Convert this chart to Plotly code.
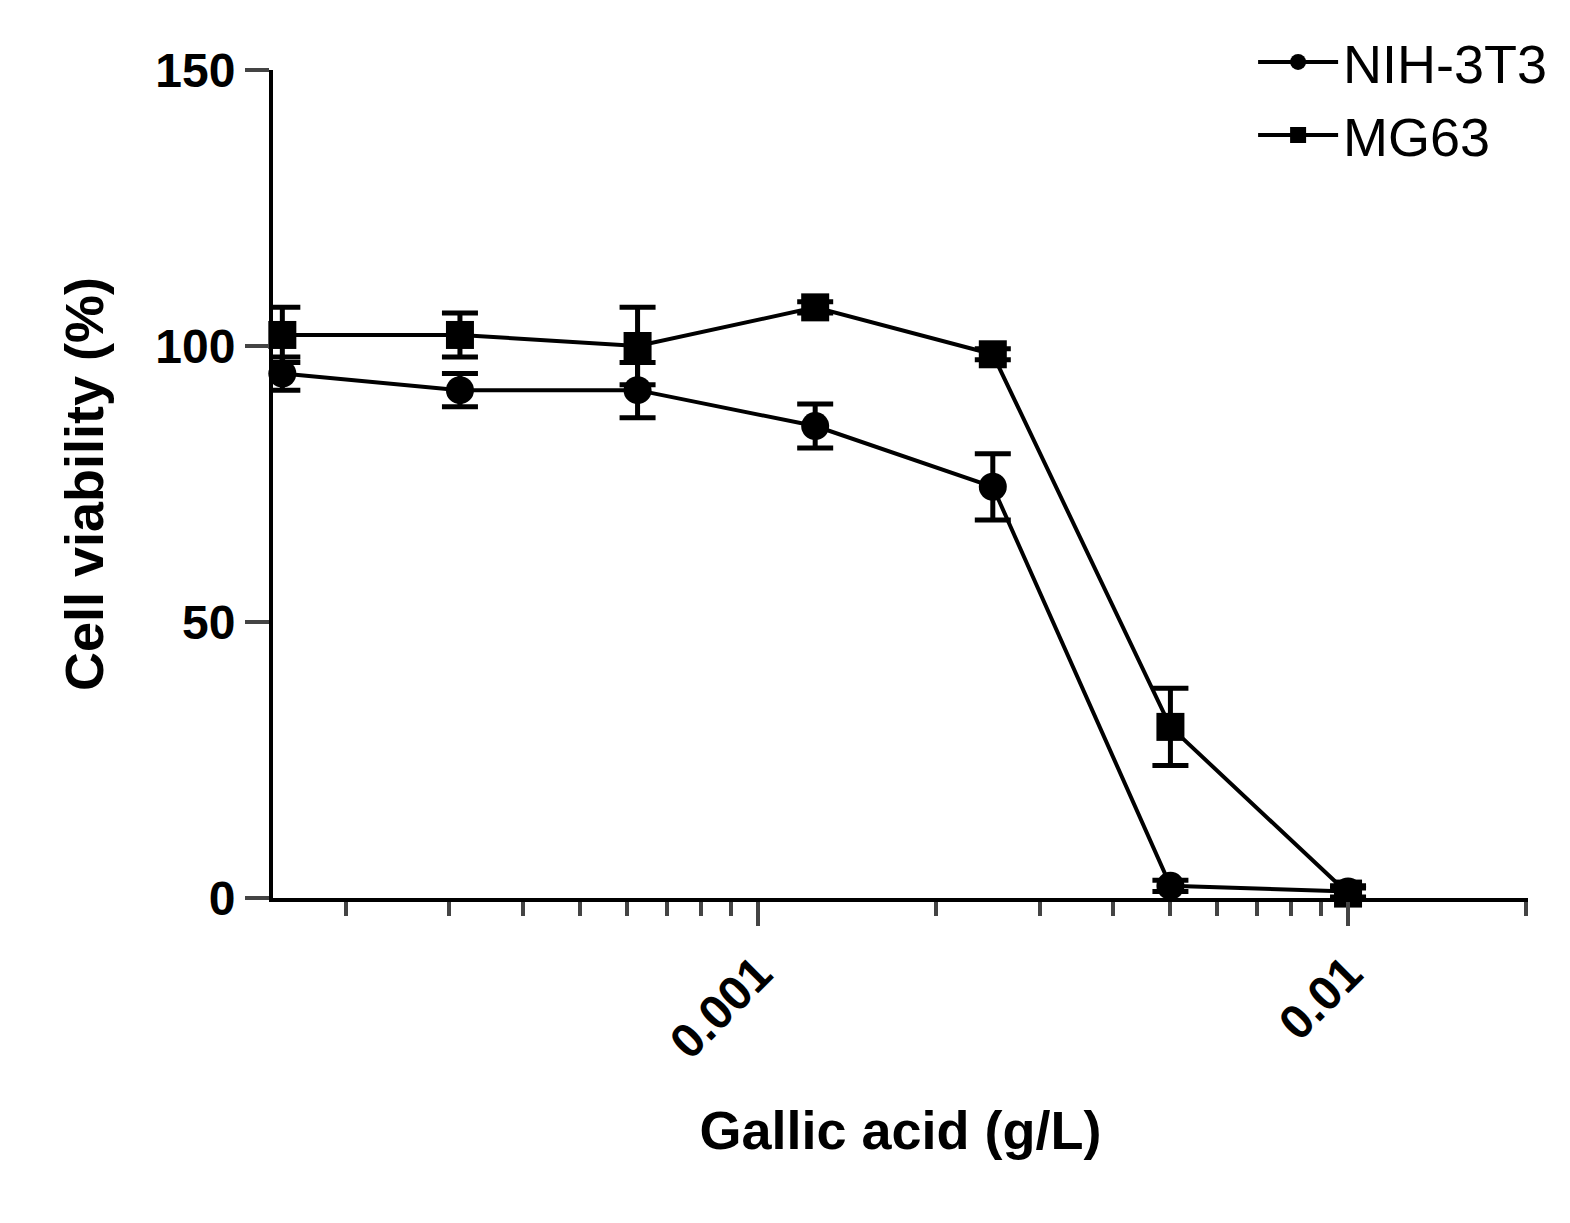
import plotly.graph_objects as go

conc = [0.00015625, 0.0003125, 0.000625, 0.00125, 0.0025, 0.005, 0.01]
nih = [95, 92, 92, 85.5, 74.5, 2.2, 1.2]
nih_err = [3, 3, 5, 4, 6, 1, 1]
mg = [102, 102, 100, 107, 98.5, 31, 0.8]
mg_err = [5, 4, 7, 1, 1, 7, 1]
minor_vals = [m * 10 ** e for e in (-4, -3, -2) for m in range(2, 10)]

fig = go.Figure()
fig.add_trace(go.Scatter(x=conc, y=nih, name="NIH-3T3", mode="lines+markers",
    line=dict(color="black", width=4), marker=dict(symbol="circle", size=28, color="black"),
    error_y=dict(type="data", array=nih_err, color="black", thickness=5, width=18), cliponaxis=False))
fig.add_trace(go.Scatter(x=conc, y=mg, name="MG63", mode="lines+markers",
    line=dict(color="black", width=4), marker=dict(symbol="square", size=28, color="black"),
    error_y=dict(type="data", array=mg_err, color="black", thickness=5, width=18), cliponaxis=False))

font = "Liberation Sans, Arial, sans-serif"
fig.update_layout(
    width=1570, height=1223, paper_bgcolor="white", plot_bgcolor="white",
    margin=dict(l=265, r=50, t=55, b=333),
    font=dict(family=font, color="black", size=48),
    legend=dict(x=1.02, y=1.06, xanchor="right", yanchor="top", font=dict(size=54),
                bgcolor="rgba(0,0,0,0)", itemwidth=80, tracegroupgap=5),
    xaxis=dict(type="log", range=[-3.822, -1.695], tickvals=[0.001, 0.01], ticktext=["0.001", "0.01"],
               tickangle=-45, ticks="outside", ticklen=24, tickwidth=4, showgrid=False, zeroline=False,
               showline=True, linecolor="black", linewidth=4,
               tickfont=dict(size=48, family=font, weight="bold"),
               minor=dict(tickmode="array", tickvals=minor_vals, ticks="outside", ticklen=14,
                          tickwidth=4, showgrid=False),
               title=dict(text="<b>Gallic acid (g/L)</b>", font=dict(size=54), standoff=45)),
    yaxis=dict(range=[0, 150], tickvals=[0, 50, 100, 150], ticks="outside", ticklen=24, tickwidth=4,
               showgrid=False, zeroline=False, showline=True, linecolor="black", linewidth=4,
               tickfont=dict(size=48, family=font, weight="bold"),
               title=dict(text="<b>Cell viability (%)</b>", font=dict(size=54), standoff=35)),
)
fig.write_html("out.html")
